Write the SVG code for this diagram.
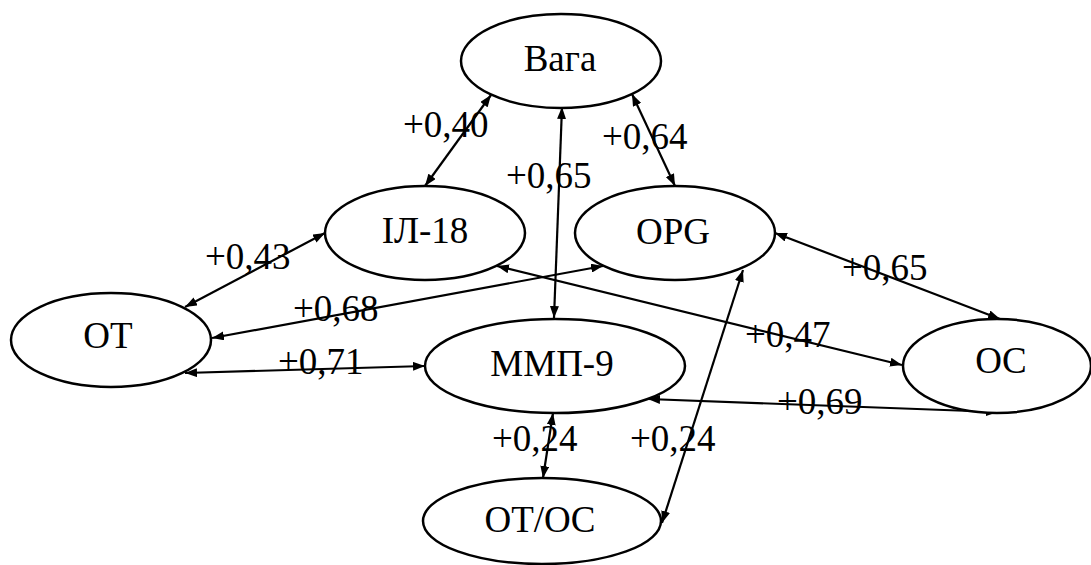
<svg xmlns="http://www.w3.org/2000/svg" width="1091" height="565" viewBox="0 0 1091 565">
<defs>
<marker id="ah" viewBox="0 0 12 9" refX="12" refY="4.5" markerWidth="12" markerHeight="9" markerUnits="userSpaceOnUse" orient="auto-start-reverse">
<path d="M0,0 L12,4.5 L0,9 z" fill="#000"/>
</marker>
<style>
.n ellipse{fill:#fff;stroke:#000;stroke-width:2.5}
text{font-family:'Liberation Serif','DejaVu Serif','Noto Serif',serif;font-size:37px;fill:#000}
.n text{text-anchor:middle}
.e line{stroke:#000;stroke-width:2.2;marker-start:url(#ah);marker-end:url(#ah)}
</style>
</defs>
<rect width="1091" height="565" fill="#fff"/>
<g class="e" id="connectors">
<line x1="491" y1="95" x2="425" y2="186"/>
<line x1="562" y1="107" x2="554" y2="318"/>
<line x1="632" y1="94" x2="675" y2="186"/>
<line x1="185" y1="307" x2="325" y2="233"/>
<line x1="212" y1="338" x2="603" y2="266"/>
<line x1="185" y1="373" x2="425" y2="366"/>
<line x1="497" y1="266" x2="902" y2="365"/>
<line x1="775" y1="233" x2="1000" y2="319"/>
<line x1="648" y1="399" x2="998" y2="412"/>
<line x1="553" y1="413" x2="543" y2="478"/>
<line x1="743" y1="270" x2="662" y2="523"/>
</g>
<g class="n" id="node-vaha"><ellipse cx="561" cy="61" rx="100" ry="47"/><text x="560" y="71" font-family="Liberation Serif, serif">Вага</text></g>
<g class="n" id="node-il18"><ellipse cx="425" cy="233" rx="100" ry="47"/><text x="425" y="243" font-family="Liberation Serif, serif">ІЛ-18</text></g>
<g class="n" id="node-opg"><ellipse cx="675" cy="233" rx="100" ry="47"/><text x="673" y="244" font-family="Liberation Serif, serif">OPG</text></g>
<g class="n" id="node-ot"><ellipse cx="111" cy="340" rx="100" ry="47"/><text x="108" y="348" font-family="Liberation Serif, serif">OT</text></g>
<g class="n" id="node-mmp9"><ellipse cx="555" cy="366" rx="130" ry="47"/><text x="552" y="376" font-family="Liberation Serif, serif">ММП-9</text></g>
<g class="n" id="node-oc"><ellipse cx="997" cy="366" rx="94" ry="47"/><text x="1001" y="373" font-family="Liberation Serif, serif">OC</text></g>
<g class="n" id="node-otoc"><ellipse cx="542" cy="521" rx="119" ry="43"/><text x="540" y="532" font-family="Liberation Serif, serif">OT/OC</text></g>
<g class="l" id="labels">
<text x="403" y="137">+0,40</text>
<text x="506" y="188">+0,65</text>
<text x="602" y="149">+0,64</text>
<text x="205" y="269">+0,43</text>
<text x="293" y="321">+0,68</text>
<text x="278" y="374">+0,71</text>
<text x="842" y="280">+0,65</text>
<text x="745" y="347">+0,47</text>
<text x="777" y="414">+0,69</text>
<text x="492" y="451">+0,24</text>
<text x="630" y="451">+0,24</text>
</g>
</svg>
